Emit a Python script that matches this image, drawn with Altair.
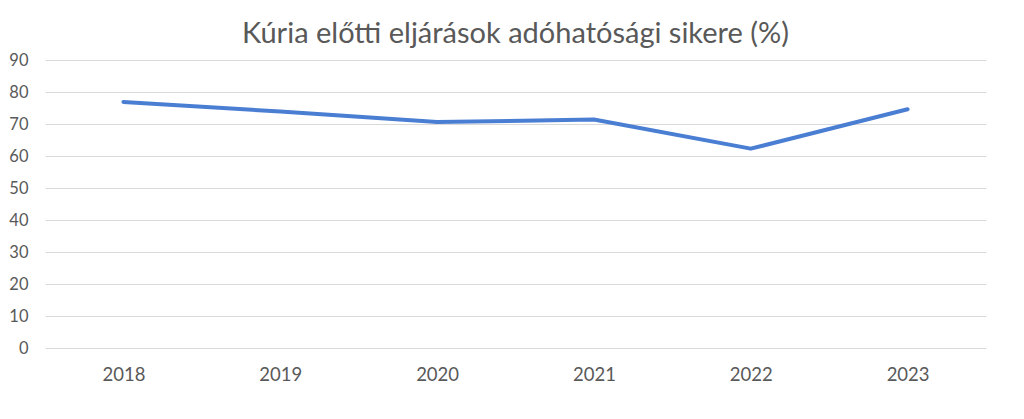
import altair as alt
import pandas as pd

years = ["2018", "2019", "2020", "2021", "2022", "2023"]
values = [76.9, 73.9, 70.6, 71.4, 62.3, 74.6]

df = pd.DataFrame({"year": years, "value": values})

FONT = "Lato"
GRAY = "#595959"

chart = (
    alt.Chart(df, title=alt.Title(
        "Kúria előtti eljárások adóhatósági sikere (%)",
        fontSize=29, font=FONT, color=GRAY, fontWeight="normal",
        baseline="alphabetic", offset=15, dy=35, anchor="middle",
    ))
    .mark_line(color="#4a7ed3", strokeWidth=4, strokeCap="round", strokeJoin="round")
    .encode(
        x=alt.X("year:O", sort=years, title=None,
                scale=alt.Scale(type="point", padding=0.5),
                axis=alt.Axis(labelAngle=0, domain=False, ticks=False, grid=False,
                              labelPadding=17, labelFontSize=18.5, labelFont=FONT,
                              labelColor=GRAY)),
        y=alt.Y("value:Q", title=None,
                scale=alt.Scale(domain=[0, 90], nice=False, zero=True),
                axis=alt.Axis(values=list(range(0, 100, 10)), domain=False, ticks=False,
                              grid=True, gridColor="#d9d9d9", gridWidth=1,
                              labelPadding=17, labelFontSize=16.5, labelFont=FONT,
                              labelColor=GRAY)),
    )
    .properties(
        width=941, height=288,
        autosize=alt.AutoSizeParams(type="none"),
        padding={"left": 37, "top": 52, "right": 30, "bottom": 63},
    )
    .configure_view(stroke=None)
)

chart.save("out.html", embed_options={"renderer": "svg", "actions": False})
